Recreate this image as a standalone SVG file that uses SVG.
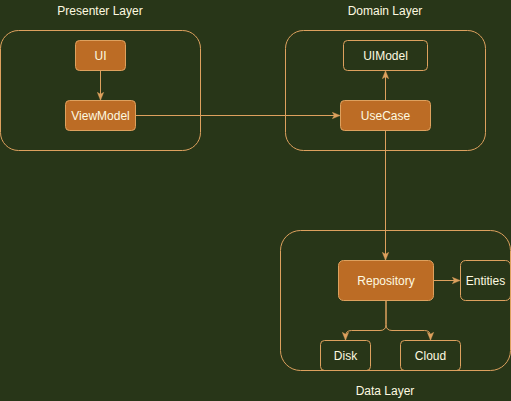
<svg xmlns="http://www.w3.org/2000/svg" width="511" height="401" viewBox="0 0 511 401">
<style>
.c{fill:none;stroke:#DDA15E;stroke-width:1}
.f{fill:#BC6C25;stroke:#DDA15E;stroke-width:1}
.o{fill:none;stroke:#DDA15E;stroke-width:1}
.t{font-family:"Liberation Sans",Arial,sans-serif;font-size:12px;fill:#FEFAE0;text-anchor:middle;dominant-baseline:central}
.e{fill:none;stroke:#DDA15E;stroke-width:1}
</style>
<defs>
<marker id="a" viewBox="0 0 10 10" refX="9" refY="5" markerWidth="8" markerHeight="8" orient="auto" markerUnits="userSpaceOnUse">
<path d="M0,1 L10,5 L0,9 L2.5,5 Z" fill="#DDA15E" stroke="#DDA15E" stroke-width="0.5"/>
</marker>
</defs>
<rect width="511" height="401" fill="#283618"/>
<g id="presenter-layer">
<rect class="c" x="0.5" y="30.5" width="200" height="120" rx="18"/>
<text class="t" x="100" y="11">Presenter Layer</text>
</g>
<g id="domain-layer">
<rect class="c" x="285.5" y="30.5" width="200" height="120" rx="18"/>
<text class="t" x="385" y="11">Domain Layer</text>
</g>
<g id="data-layer">
<rect class="c" x="280.5" y="230.5" width="230" height="140" rx="20"/>
<text class="t" x="385" y="391">Data Layer</text>
</g>
<g id="ui"><rect class="f" x="75.5" y="40.5" width="50" height="30" rx="4"/><text class="t" x="100.5" y="55.5">UI</text></g>
<g id="viewmodel"><rect class="f" x="65.5" y="100.5" width="70" height="30" rx="4"/><text class="t" x="100.5" y="115.5">ViewModel</text></g>
<g id="uimodel"><rect class="o" x="343.5" y="40.5" width="84" height="30" rx="4"/><text class="t" x="385.5" y="55.5">UIModel</text></g>
<g id="usecase"><rect class="f" x="340.5" y="100.5" width="90" height="30" rx="4"/><text class="t" x="385.5" y="115.5">UseCase</text></g>
<g id="repository"><rect class="f" x="338.5" y="260.5" width="95" height="40" rx="5"/><text class="t" x="386" y="280.5">Repository</text></g>
<g id="entities"><rect class="o" x="460.5" y="260.5" width="50" height="40" rx="5"/><text class="t" x="485.5" y="280.5">Entities</text></g>
<g id="disk"><rect class="o" x="320.5" y="340.5" width="50" height="30" rx="4"/><text class="t" x="345.5" y="355.5">Disk</text></g>
<g id="cloud"><rect class="o" x="400.5" y="340.5" width="60" height="30" rx="4"/><text class="t" x="430.5" y="355.5">Cloud</text></g>
<g id="connectors">
<path class="e" d="M100.5,70.5 V99.5" marker-end="url(#a)"/>
<path class="e" d="M135.5,115.5 H339.5" marker-end="url(#a)"/>
<path class="e" d="M385.5,100.5 V71.5" marker-end="url(#a)"/>
<path class="e" d="M385.5,130.5 V259.5" marker-end="url(#a)"/>
<path class="e" d="M433.5,280.5 H459.5" marker-end="url(#a)"/>
<path class="e" d="M386,300.5 V324.5 Q386,330.5 380,330.5 H351.5 Q345.5,330.5 345.5,336.5 V339.5" marker-end="url(#a)"/>
<path class="e" d="M386,300.5 V324.5 Q386,330.5 392,330.5 H424.5 Q430.5,330.5 430.5,336.5 V339.5" marker-end="url(#a)"/>
</g>
</svg>
